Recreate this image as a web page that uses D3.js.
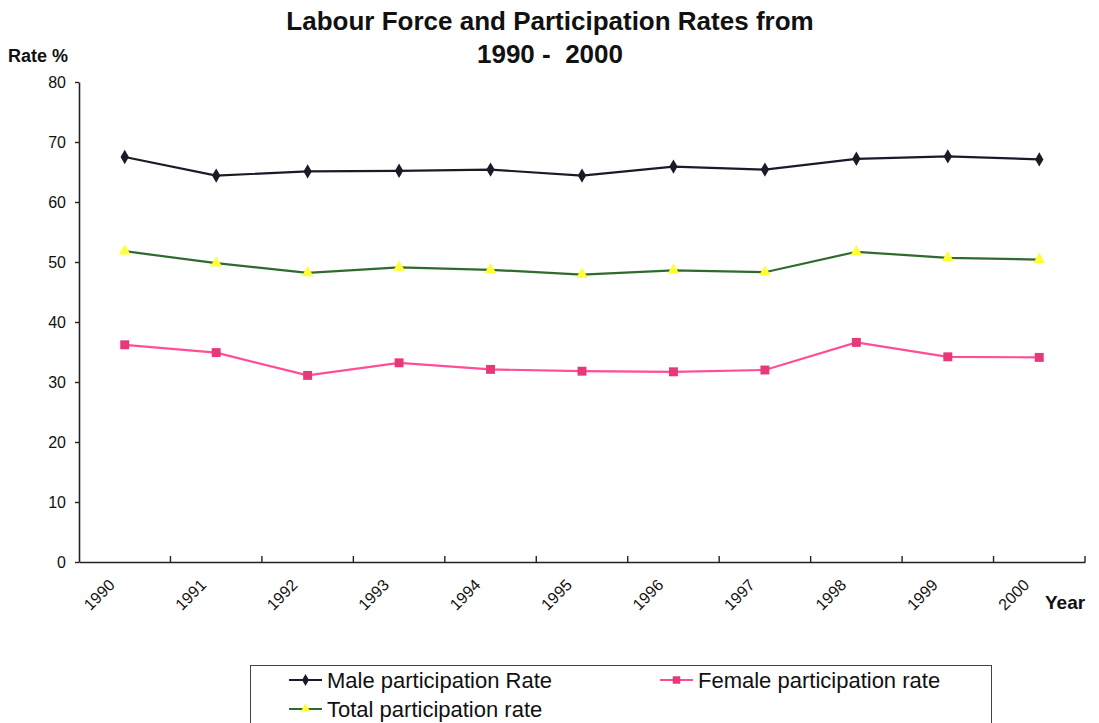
<!DOCTYPE html>
<html>
<head>
<meta charset="utf-8">
<script src="https://cdn.jsdelivr.net/npm/d3@7"></script>
<style>
  html, body { margin: 0; padding: 0; background: #fff; }
  svg { display: block; font-family: "Liberation Sans", Arial, sans-serif; }
</style>
</head>
<body>
<svg id="chart" width="1099" height="723"></svg>
<script>
// Labour force participation, 1990-2000
const years = ["1990","1991","1992","1993","1994","1995","1996","1997","1998","1999","2000"];
const maleRate   = [67.5, 64.4, 65.1, 65.2, 65.4, 64.4, 65.9, 65.4, 67.2, 67.6, 67.1];
const femaleRate = [36.2, 34.9, 31.1, 33.2, 32.1, 31.8, 31.7, 32.0, 36.6, 34.2, 34.1];
const totalRate  = [51.8, 49.8, 48.2, 49.1, 48.7, 47.9, 48.6, 48.3, 51.7, 50.7, 50.4];
const yTicks = [0, 10, 20, 30, 40, 50, 60, 70, 80];

const svg = d3.select("#chart");

const x = d3.scaleBand().domain(years).range([79, 1085]).padding(0);
const y = d3.scaleLinear().domain([0, 80]).range([562, 82]);
const cx = d => x(d) + x.bandwidth() / 2;

// Title
svg.append("text").attr("x", 550).attr("y", 30).attr("text-anchor", "middle")
  .attr("font-size", 26).attr("font-weight", "bold").attr("fill", "#111")
  .text("Labour Force and Participation Rates from");
svg.append("text").attr("x", 550).attr("y", 63).attr("text-anchor", "middle")
  .attr("font-size", 26).attr("font-weight", "bold").attr("fill", "#111")
  .attr("xml:space", "preserve")
  .text("1990 -  2000");

// Axis titles
svg.append("text").attr("x", 8).attr("y", 62)
  .attr("font-size", 18).attr("font-weight", "bold").attr("fill", "#111")
  .text("Rate %");
svg.append("text").attr("x", 1045).attr("y", 609)
  .attr("font-size", 19).attr("font-weight", "bold").attr("fill", "#111")
  .text("Year");

// Y axis
const yAxis = svg.append("g").attr("transform", "translate(79,0)")
  .call(d3.axisLeft(y).tickValues(yTicks).tickSize(4).tickPadding(9).tickSizeOuter(0));
yAxis.select(".domain").attr("stroke", "#222").attr("stroke-width", 1.6);
yAxis.selectAll(".tick line").attr("stroke", "#222").attr("stroke-width", 1.4);
yAxis.selectAll(".tick text").attr("font-size", 16)
  .attr("font-family", "'Liberation Sans', Arial, sans-serif").attr("fill", "#111").attr("dy", "0.36em");

// X axis: baseline plus category boundary ticks
const xAxis = svg.append("g").attr("transform", "translate(0,562)")
  .call(d3.axisBottom(x).tickSize(0).tickFormat(""));
xAxis.select(".domain").attr("stroke", "#222").attr("stroke-width", 1.6);
const bounds = years.slice(1).map(d => x(d)).concat([x.range()[1]]);
xAxis.selectAll(".bound").data(bounds).join("line").attr("class", "bound")
  .attr("x1", d => d).attr("x2", d => d).attr("y1", 0).attr("y2", -6)
  .attr("stroke", "#222").attr("stroke-width", 1.4);

// Rotated year labels
svg.append("g").selectAll("text").data(years).join("text")
  .attr("transform", d => `translate(${cx(d) - 9},${586}) rotate(-45)`)
  .attr("text-anchor", "end").attr("font-size", 16).attr("fill", "#111")
  .text(d => d);

// Series
const series = [
  { name: "Male participation Rate", values: maleRate, line: "#1b1b28", fill: "#1b1b28", symbol: d3.symbolDiamond, size: 60 },
  { name: "Female participation rate", values: femaleRate, line: "#ff4d96", fill: "#e8387c", symbol: d3.symbolSquare, size: 80 },
  { name: "Total participation rate", values: totalRate, line: "#2f6a2f", fill: "#ffff33", symbol: d3.symbolTriangle, size: 60 }
];

const line = d3.line().x((v, i) => cx(years[i])).y(v => y(v));

series.forEach(s => {
  svg.append("path").attr("d", line(s.values))
    .attr("fill", "none").attr("stroke", s.line).attr("stroke-width", 2.2);
  svg.append("g").selectAll("path").data(s.values).join("path")
    .attr("transform", (v, i) => `translate(${cx(years[i])},${y(v)})`)
    .attr("d", d3.symbol().type(s.symbol).size(s.size))
    .attr("fill", s.fill);
});

// Legend
const lg = svg.append("g");
lg.append("rect").attr("x", 250.5).attr("y", 665.5).attr("width", 741).attr("height", 70)
  .attr("fill", "#fff").attr("stroke", "#444").attr("stroke-width", 1);
const legendPos = [[289, 680], [660, 680], [289, 709]];
series.forEach((s, i) => {
  const [lx, ly] = legendPos[i];
  lg.append("line").attr("x1", lx).attr("x2", lx + 33).attr("y1", ly).attr("y2", ly)
    .attr("stroke", s.line).attr("stroke-width", 2);
  lg.append("path").attr("transform", `translate(${lx + 16.5},${ly})`)
    .attr("d", d3.symbol().type(s.symbol).size(s.size * 0.7)).attr("fill", s.fill);
  lg.append("text").attr("x", lx + 38).attr("y", ly + 8)
    .attr("font-size", 22).attr("fill", "#111").text(s.name);
});
</script>
</body>
</html>
